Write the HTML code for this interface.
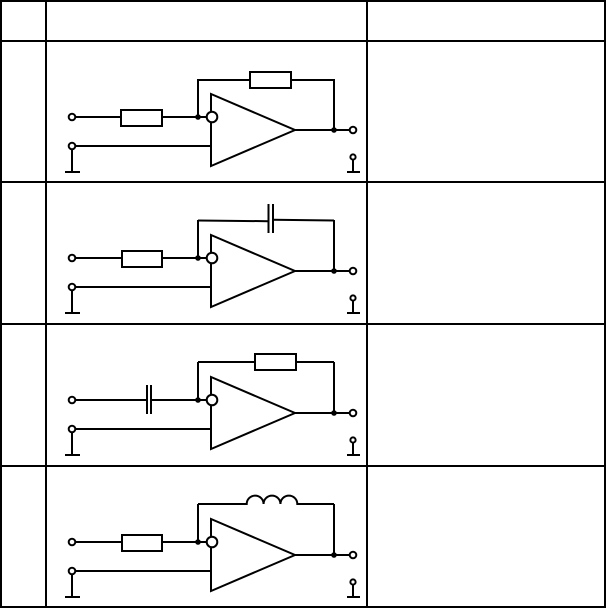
<!DOCTYPE html>
<html>
<head>
<meta charset="utf-8">
<style>
  html,body{margin:0;padding:0;background:#fff;}
  body{width:606px;height:608px;overflow:hidden;font-family:"Liberation Sans",sans-serif;}
  svg{display:block;}
</style>
</head>
<body>
<svg width="606" height="608" viewBox="0 0 606 608" xmlns="http://www.w3.org/2000/svg">
  <defs>
    <g id="base" fill="none" stroke="#000" stroke-width="2">
      <line x1="198" y1="76" x2="198" y2="38"/>
      <line x1="334" y1="38" x2="334" y2="89"/>
      <polygon points="211,53 211,125 295,89" fill="#fff" stroke-linejoin="miter"/>
      <line x1="162" y1="76" x2="206" y2="76"/>
      <circle cx="212" cy="76" r="5.3" fill="#fff"/>
      <line x1="75" y1="105" x2="211" y2="105"/>
      <circle cx="72" cy="105" r="3.3" fill="#fff"/>
      <line x1="72" y1="108.3" x2="72" y2="131"/>
      <line x1="65" y1="131" x2="80" y2="131"/>
      <line x1="295" y1="89" x2="349.4" y2="89"/>
      <circle cx="353" cy="89" r="3.3" fill="#fff"/>
      <circle cx="353" cy="116" r="2.6" fill="#fff"/>
      <line x1="353" y1="118.6" x2="353" y2="131"/>
      <line x1="347" y1="131" x2="360" y2="131"/>
      <circle cx="72" cy="76" r="3.3" fill="#fff"/>
    </g>
    <g id="dots" fill="#000" stroke="none">
      <circle cx="198" cy="76" r="2.8"/>
      <circle cx="334" cy="89" r="2.8"/>
    </g>
  </defs>

  <!-- table grid -->
  <g stroke="#000" stroke-width="2" fill="none">
    <line x1="0" y1="1" x2="606" y2="1"/>
    <line x1="0" y1="41" x2="606" y2="41"/>
    <line x1="0" y1="182" x2="606" y2="182"/>
    <line x1="0" y1="324" x2="606" y2="324"/>
    <line x1="0" y1="466" x2="606" y2="466"/>
    <line x1="0" y1="607" x2="606" y2="607"/>
    <line x1="1" y1="0" x2="1" y2="608"/>
    <line x1="46" y1="0" x2="46" y2="608"/>
    <line x1="367" y1="0" x2="367" y2="608"/>
    <line x1="605" y1="0" x2="605" y2="608"/>
  </g>

  <!-- Row 1 -->
  <g transform="translate(0,41)">
    <g fill="none" stroke="#000" stroke-width="2">
      <line x1="75.3" y1="76" x2="121" y2="76"/>
      <rect x="121" y="69" width="41" height="16" fill="#fff"/>
      <line x1="198" y1="39" x2="250" y2="39"/>
      <rect x="250" y="31" width="41" height="16" fill="#fff"/>
      <line x1="291" y1="39" x2="334" y2="39"/>
    </g>
    <use href="#base"/>
    <use href="#dots"/>
  </g>

  <!-- Row 2 -->
  <g transform="translate(0,182)">
    <g fill="none" stroke="#000" stroke-width="2">
      <line x1="75.3" y1="76" x2="121" y2="76"/>
      <rect x="122" y="69" width="40" height="16" fill="#fff"/>
      <line x1="198" y1="38.5" x2="268.5" y2="39.2"/>
      <line x1="273" y1="37.8" x2="334" y2="38.5"/>
      <line x1="268.5" y1="22" x2="268.5" y2="51"/>
      <line x1="273" y1="22" x2="273" y2="51"/>
    </g>
    <use href="#base"/>
    <use href="#dots"/>
  </g>

  <!-- Row 3 -->
  <g transform="translate(0,324)">
    <g fill="none" stroke="#000" stroke-width="2">
      <line x1="75.3" y1="76" x2="147" y2="76"/>
      <line x1="151" y1="76" x2="198" y2="76"/>
      <line x1="147" y1="61" x2="147" y2="90"/>
      <line x1="151" y1="61" x2="151" y2="90"/>
      <line x1="198" y1="38" x2="255" y2="38"/>
      <rect x="255" y="30" width="41" height="16" fill="#fff"/>
      <line x1="296" y1="38" x2="334" y2="38"/>
    </g>
    <use href="#base"/>
    <use href="#dots"/>
  </g>

  <!-- Row 4 -->
  <g transform="translate(0,466)">
    <g fill="none" stroke="#000" stroke-width="2">
      <line x1="75.3" y1="76" x2="121" y2="76"/>
      <rect x="122" y="69" width="40" height="16" fill="#fff"/>
      <path d="M198,38 H246.7 a8.43,8.43 0 0 1 16.87,0 a8.43,8.43 0 0 1 16.87,0 a8.43,8.43 0 0 1 16.87,0 H334"/>
    </g>
    <use href="#base"/>
    <use href="#dots"/>
  </g>
</svg>
</body>
</html>
